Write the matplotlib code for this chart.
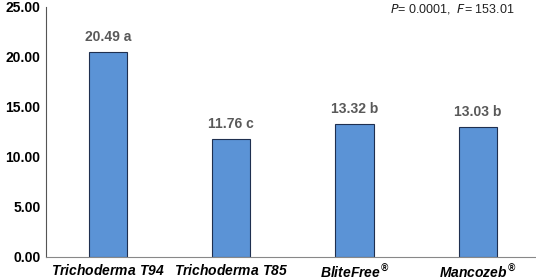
import numpy as np
import matplotlib.pyplot as plt

plt.rcParams['font.family'] = ['Liberation Sans', 'DejaVu Sans']
plt.rcParams['mathtext.fontset'] = 'custom'
plt.rcParams['mathtext.it'] = 'Liberation Sans:italic:bold'
plt.rcParams['mathtext.rm'] = 'Liberation Sans:italic:bold'

# data
treatments = [r"$\it{Trichoderma\ T94}$", r"$\it{Trichoderma\ T85}$",
              r"$\it{BliteFree}^{\circledR}$", r"$\it{Mancozeb}^{\circledR}$"]
values = [20.49, 11.76, 13.32, 13.03]
letters = ["a", "c", "b", "b"]

fig = plt.figure(figsize=(5.36, 2.8), dpi=100)
ax = fig.add_axes([46/536, 23/280, 1 - 46/536, 250/280])

x = np.arange(len(values))
bars = ax.bar(x, values, width=0.31, color='#5B93D6', edgecolor='#1f2f4f', linewidth=0.8)

for xi, v, l in zip(x, values, letters):
    ax.text(xi, v + 0.8, f"{v:.2f} {l}", ha='center', va='bottom',
            fontsize=10, fontweight='bold', color='#595959')

ax.set_xlim(-0.5, 3.47)
ax.set_ylim(0, 25)
ax.set_yticks(np.arange(0, 26, 5))
ax.set_yticklabels([f"{t:.2f}" for t in np.arange(0, 26, 5)], fontsize=10, fontweight='bold')
ax.set_xticks(x)
ax.set_xticklabels(treatments, fontsize=10)
ax.tick_params(axis='both', length=0, pad=4)

for s in ['top', 'right']:
    ax.spines[s].set_visible(False)
ax.spines['left'].set_color('#555555')
ax.spines['left'].set_linestyle((0, (1, 1)))
ax.spines['bottom'].set_color('#888888')
ax.spines['bottom'].set_linestyle((0, (1, 1)))

fig.text(515/536, 1 - 9/280, r"$\mathit{P}$= 0.0001,  $\mathit{F}$= 153.01", ha='right', va='center',
         fontsize=9, color='#222222', fontweight='normal',
         math_fontfamily='dejavusans')

fig.savefig('out.png', dpi=100)
